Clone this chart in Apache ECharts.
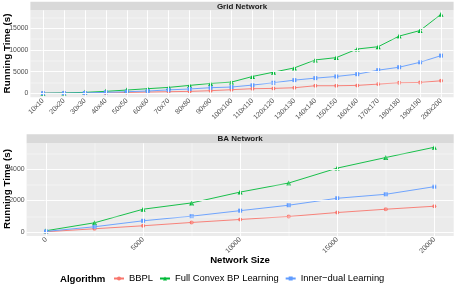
<!DOCTYPE html>
<html><head><meta charset="utf-8">
<script src="https://cdn.jsdelivr.net/npm/echarts@6/dist/echarts.min.js"></script>
<style>html,body{margin:0;padding:0;background:#fff}#c{width:455px;height:292px}</style>
</head><body><div id="c"></div>
<script>
const categories = ['10x10','20x20','30x30','40x40','50x50','60x60','70x70','80x80','90x90','100x100','110x110','120x120','130x130','140x140','150x150','160x160','170x170','180x180','190x190','200x200'];
const gridBBPL  = [10, 20, 50, 80, 200, 300, 380, 450, 610, 840, 1070, 1140, 1290, 1750, 1750, 1830, 2130, 2440, 2510, 2890];
const gridFull  = [30, 100, 230, 460, 760, 1070, 1370, 1830, 2280, 2590, 3880, 4870, 5860, 7690, 8220, 10200, 10730, 13170, 14460, 18190];
const gridInner = [20, 40, 80, 230, 380, 530, 800, 1000, 1300, 1450, 1900, 2440, 3040, 3500, 3880, 4410, 5330, 6010, 7150, 8680];
const gridYTicks = [0, 5000, 10000, 15000];
const gridYMinor = [2500, 7500, 12500, 17500];

const baSizes = [0, 2500, 5000, 7500, 10000, 12500, 15000, 17500, 20000];
const baBBPL  = [20, 210, 400, 610, 800, 989, 1242, 1452, 1642];
const baFull  = [84, 590, 1452, 1852, 2540, 3115, 4063, 4736, 5389];
const baInner = [40, 337, 716, 1010, 1360, 1705, 2147, 2400, 2884];
const baXTicks = [0, 5000, 10000, 15000, 20000];
const baXMinor = [2500, 7500, 12500, 17500];
const baYTicks = [0, 2000, 4000];
const baYMinor = [1000, 3000, 5000];

const names = ['BBPL', 'Full Convex BP Learning', 'Inner\u2212dual Learning'];
const colors = ['#F8766D', '#00BA38', '#619CFF'];
const symbols = ['circle', 'triangle', 'rect'];
const FONT = 'Liberation Sans, Arial, sans-serif';

const chart = echarts.init(document.getElementById('c'), null, {renderer: 'canvas'});

const P1 = {l: 30.4, r: 453.6, t: 10.3, b: 97.3};
const P2 = {l: 26.6, r: 453.7, t: 143.3, b: 236};

function axisLabelStyle(extra) {
  return Object.assign({color: '#4D4D4D', fontSize: 6.9, fontFamily: FONT}, extra);
}
function gridLines(xMaj, xMin, yMaj, yMin) {
  const d = [];
  xMin.forEach(v => d.push({xAxis: v, lineStyle: {width: 0.45}}));
  yMin.forEach(v => d.push({yAxis: v, lineStyle: {width: 0.45}}));
  xMaj.forEach(v => d.push({xAxis: v, lineStyle: {width: 0.95}}));
  yMaj.forEach(v => d.push({yAxis: v, lineStyle: {width: 0.95}}));
  return d;
}
function mkSeries(name, i, xi, data) {
  return {
    name: name, type: 'line', xAxisIndex: xi, yAxisIndex: xi, data: data,
    symbol: symbols[i], symbolSize: i === 1 ? 5 : 4, showSymbol: true,
    lineStyle: {color: colors[i], width: 0.9}, itemStyle: {color: colors[i]},
    z: 3, silent: true
  };
}
const idx = categories.map((c, i) => i);
const series = [];
series.push({type: 'line', xAxisIndex: 0, yAxisIndex: 0, data: [], z: 1, silent: true,
  markLine: {silent: true, symbol: 'none', label: {show: false}, animation: false,
    lineStyle: {color: '#FFFFFF', type: 'solid'},
    data: gridLines(idx, [], gridYTicks, gridYMinor)}});
series.push({type: 'line', xAxisIndex: 1, yAxisIndex: 1, data: [], z: 1, silent: true,
  markLine: {silent: true, symbol: 'none', label: {show: false}, animation: false,
    lineStyle: {color: '#FFFFFF', type: 'solid'},
    data: gridLines(baXTicks, baXMinor, baYTicks, baYMinor)}});
[gridBBPL, gridFull, gridInner].forEach((arr, i) => {
  series.push(mkSeries(names[i], i, 0, arr.map((v, k) => [k, v])));
});
[baBBPL, baFull, baInner].forEach((arr, i) => {
  series.push(mkSeries(names[i], i, 1, arr.map((v, k) => [baSizes[k], v])));
});

const tick = {show: true, length: 1.8, lineStyle: {color: '#333333', width: 0.6}};

chart.setOption({
  animation: false,
  backgroundColor: '#FFFFFF',
  grid: [
    {left: P1.l, top: P1.t, width: P1.r - P1.l, height: P1.b - P1.t, show: true, backgroundColor: '#EBEBEB', borderWidth: 0, containLabel: false},
    {left: P2.l, top: P2.t, width: P2.r - P2.l, height: P2.b - P2.t, show: true, backgroundColor: '#EBEBEB', borderWidth: 0, containLabel: false}
  ],
  xAxis: [
    {type: 'value', gridIndex: 0, min: -0.6, max: 19.6,
     axisLine: {show: false}, splitLine: {show: false},
     axisTick: Object.assign({customValues: idx}, tick),
     axisLabel: axisLabelStyle({customValues: idx, rotate: 45, margin: 2.5,
       formatter: v => categories[Math.round(v)]})},
    {type: 'value', gridIndex: 1, min: -1000, max: 21000,
     axisLine: {show: false}, splitLine: {show: false},
     axisTick: Object.assign({customValues: baXTicks}, tick),
     axisLabel: axisLabelStyle({customValues: baXTicks, rotate: 45, margin: 2.5,
       formatter: v => String(v)})}
  ],
  yAxis: [
    {type: 'value', gridIndex: 0, min: -910, max: 19110,
     axisLine: {show: false}, splitLine: {show: false},
     axisTick: Object.assign({customValues: gridYTicks}, tick),
     axisLabel: axisLabelStyle({customValues: gridYTicks, margin: 2, formatter: v => String(v)})},
    {type: 'value', gridIndex: 1, min: -250, max: 5640,
     axisLine: {show: false}, splitLine: {show: false},
     axisTick: Object.assign({customValues: baYTicks}, tick),
     axisLabel: axisLabelStyle({customValues: baYTicks, margin: 2, formatter: v => String(v)})}
  ],
  legend: {
    data: names.map(n => ({name: n})),
    left: 113, top: 274, padding: 0, itemWidth: 10, itemHeight: 5, itemGap: 6,
    textStyle: {fontSize: 9.4, color: '#000000', fontFamily: FONT},
    selectedMode: false
  },
  graphic: [
    {type: 'rect', shape: {x: P1.l, y: 1.7, width: P1.r - P1.l, height: P1.t - 1.7}, style: {fill: '#D9D9D9'}, silent: true},
    {type: 'text', x: (P1.l + P1.r) / 2, y: (1.7 + P1.t) / 2 + 0.3, style: {text: 'Grid Network', fill: '#1A1A1A', font: 'bold 8px ' + FONT, align: 'center', verticalAlign: 'middle'}, silent: true},
    {type: 'rect', shape: {x: P2.l, y: 134.3, width: P2.r - P2.l, height: P2.t - 134.3}, style: {fill: '#D9D9D9'}, silent: true},
    {type: 'text', x: (P2.l + P2.r) / 2, y: (134.3 + P2.t) / 2 + 0.3, style: {text: 'BA Network', fill: '#1A1A1A', font: 'bold 8px ' + FONT, align: 'center', verticalAlign: 'middle'}, silent: true},
    {type: 'text', x: 7.5, y: 53.5, rotation: Math.PI / 2, style: {text: 'Running Time (s)', fill: '#000000', font: 'bold 9.8px ' + FONT, align: 'center', verticalAlign: 'middle'}, silent: true},
    {type: 'text', x: 7.5, y: 189, rotation: Math.PI / 2, style: {text: 'Running Time (s)', fill: '#000000', font: 'bold 9.8px ' + FONT, align: 'center', verticalAlign: 'middle'}, silent: true},
    {type: 'text', x: 240, y: 260.5, style: {text: 'Network Size', fill: '#000000', font: 'bold 9.6px ' + FONT, align: 'center', verticalAlign: 'middle'}, silent: true},
    {type: 'text', x: 60, y: 279.5, style: {text: 'Algorithm', fill: '#000000', font: 'bold 9.6px ' + FONT, align: 'left', verticalAlign: 'middle'}, silent: true}
  ],
  series: series
});
</script></body></html>
